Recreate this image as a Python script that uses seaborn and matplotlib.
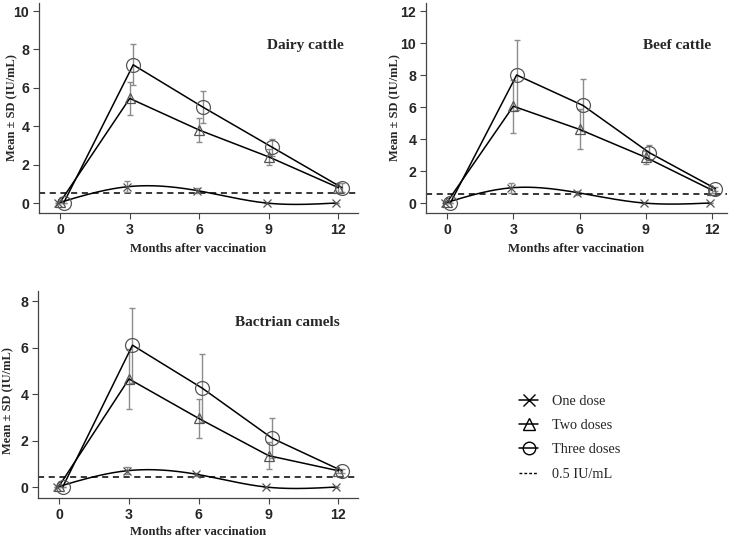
"""
Antibody titres (mean +/- SD) after one, two or three vaccine doses
in dairy cattle, beef cattle and Bactrian camels.
"""
import numpy as np
import pandas as pd
from matplotlib import pyplot as plt
from matplotlib.lines import Line2D
import seaborn as sns

MONTHS = [0, 3, 6, 9, 12]
GROUPS = ["One dose", "Two doses", "Three doses"]

# Dairy cattle
dairy_one = [0.0, 0.85, 0.65, 0.0, 0.0]
dairy_one_sd = [0.0, 0.30, 0.15, 0.0, 0.0]
dairy_two = [0.05, 5.45, 3.80, 2.40, 0.80]
dairy_two_sd = [0.0, 0.85, 0.62, 0.40, 0.25]
dairy_three = [0.0, 7.20, 5.00, 2.90, 0.80]
dairy_three_sd = [0.0, 1.07, 0.82, 0.45, 0.22]
dairy_cutoff = 0.5

# Beef cattle
beef_one = [0.0, 0.95, 0.65, 0.0, 0.0]
beef_one_sd = [0.0, 0.30, 0.12, 0.0, 0.0]
beef_two = [0.05, 6.05, 4.60, 2.85, 0.80]
beef_two_sd = [0.0, 1.65, 1.25, 0.40, 0.15]
beef_three = [0.0, 8.00, 6.10, 3.15, 0.90]
beef_three_sd = [0.0, 2.20, 1.62, 0.45, 0.12]
beef_cutoff = 0.55

# Bactrian camels
camel_one = [0.0, 0.70, 0.55, 0.0, 0.0]
camel_one_sd = [0.0, 0.15, 0.06, 0.0, 0.0]
camel_two = [0.05, 4.65, 2.95, 1.35, 0.70]
camel_two_sd = [0.0, 1.30, 0.85, 0.58, 0.08]
camel_three = [0.0, 6.10, 4.25, 2.10, 0.70]
camel_three_sd = [0.0, 1.62, 1.45, 0.85, 0.08]
camel_cutoff = 0.45

PANELS = [
    ("Dairy cattle", (dairy_one, dairy_two, dairy_three),
     (dairy_one_sd, dairy_two_sd, dairy_three_sd), dairy_cutoff),
    ("Beef cattle", (beef_one, beef_two, beef_three),
     (beef_one_sd, beef_two_sd, beef_three_sd), beef_cutoff),
    ("Bactrian camels", (camel_one, camel_two, camel_three),
     (camel_one_sd, camel_two_sd, camel_three_sd), camel_cutoff),
]

OFFSETS = [-0.1, 0.0, 0.15]
MARKERS = ["x", "^", "o"]
MSIZES = [6, 7, 10]


def _natural_spline(x, y, n=200):
    """Natural cubic spline through the points, for the smoothed curve."""
    x = np.asarray(x, float)
    y = np.asarray(y, float)
    k = len(x)
    h = np.diff(x)
    A = np.zeros((k, k))
    b = np.zeros(k)
    A[0, 0] = A[-1, -1] = 1
    for i in range(1, k - 1):
        A[i, i - 1] = h[i - 1]
        A[i, i] = 2 * (h[i - 1] + h[i])
        A[i, i + 1] = h[i]
        b[i] = 3 * ((y[i + 1] - y[i]) / h[i] - (y[i] - y[i - 1]) / h[i - 1])
    c = np.linalg.solve(A, b)
    xs = np.linspace(x[0], x[-1], n)
    idx = np.clip(np.searchsorted(x, xs) - 1, 0, k - 2)
    dx = xs - x[idx]
    bb = (y[1:] - y[:-1]) / h - h * (2 * c[:-1] + c[1:]) / 3
    dd = (c[1:] - c[:-1]) / (3 * h)
    ys = y[idx] + bb[idx] * dx + c[idx] * dx ** 2 + dd[idx] * dx ** 3
    return xs, ys


sns.set_style("ticks")
plt.rcParams["font.family"] = ["Liberation Serif", "DejaVu Serif"]

fig = plt.figure(figsize=(7.31, 5.39), dpi=100)

# rect, xlim, ylim, yticks, title position, xlabel y, ylabel (x, y) in axes coords
axes_spec = [
    ([0.0534, 0.6048, 0.4363, 0.3896], (-0.91, 12.84), (-0.52, 10.42),
     [0, 2, 4, 6, 8, 10], (0.834, 0.80), -0.145, (-0.066, 0.50)),
    ([0.5828, 0.6048, 0.4117, 0.3896], (-0.95, 12.67), (-0.625, 12.5),
     [0, 2, 4, 6, 8, 10, 12], (0.834, 0.80), -0.145, (-0.083, 0.50)),
    ([0.0520, 0.0761, 0.4377, 0.3840], (-0.91, 12.84), (-0.47, 8.43),
     [0, 2, 4, 6, 8], (0.78, 0.85), -0.135, (-0.075, 0.47)),
]

for (title, means, sds, cutoff), (rect, xlim, ylim, yticks, tpos, xl_y, yl) in zip(
    PANELS, axes_spec
):
    ax = fig.add_axes(rect)

    for g, (m, s, off, mk, ms) in enumerate(
        zip(means, sds, OFFSETS, MARKERS, MSIZES)
    ):
        xs = np.array(MONTHS) + off
        if g == 0:
            sx, sy = _natural_spline(xs, m)
            curve = pd.DataFrame({"x": sx, "y": sy})
        else:
            curve = pd.DataFrame({"x": xs, "y": m})
        sns.lineplot(data=curve, x="x", y="y", color="black", lw=1.1,
                     sort=False, ax=ax, zorder=3)
        ax.errorbar(xs, m, yerr=s, fmt="none", ecolor="#8c8c8c",
                    elinewidth=1, capsize=2.5, capthick=1, zorder=2)
        ax.plot(xs, m, ls="none", marker=mk, ms=ms, mfc="none",
                mec="#555555", mew=0.9, zorder=4)

    ax.axhline(cutoff, ls="--", color="black", lw=1.1, dashes=(4, 3), zorder=1)

    ax.set_xlim(*xlim)
    ax.set_ylim(*ylim)
    ax.set_xticks(MONTHS)
    ax.set_yticks(yticks)
    for lab in ax.get_xticklabels() + ax.get_yticklabels():
        lab.set_family("Liberation Sans")
        lab.set_weight("bold")
        lab.set_fontsize(10.2)
    ax.tick_params(length=4, width=0.8, color="#444444", pad=3)
    for side in ["top", "right"]:
        ax.spines[side].set_visible(False)
    for side in ["left", "bottom"]:
        ax.spines[side].set_color("#444444")
        ax.spines[side].set_linewidth(0.9)

    ax.set_xlabel("Months after vaccination", fontsize=9.2, weight="bold")
    ax.set_ylabel("Mean \u00b1 SD (IU/mL)", fontsize=9, weight="bold")
    ax.xaxis.set_label_coords(0.5, xl_y)
    ax.yaxis.set_label_coords(*yl)
    ax.text(*tpos, title, transform=ax.transAxes, ha="center", va="center",
            fontsize=11, weight="bold")

# Legend
handles = [
    Line2D([], [], color="black", lw=1.1, marker=mk, ms=ms, mfc="none",
           mec="black", mew=1)
    for mk, ms in zip(MARKERS, [8, 8, 9])
]
handles.append(Line2D([], [], color="black", lw=1, ls="--", dashes=(2, 1.5)))
fig.legend(
    handles,
    GROUPS + ["0.5 IU/mL"],
    loc="upper left",
    bbox_to_anchor=(0.693, 0.291),
    frameon=False,
    fontsize=10.3,
    handlelength=1.3,
    handletextpad=1.0,
    labelspacing=0.78,
)

fig.savefig("out.png", dpi=100)
